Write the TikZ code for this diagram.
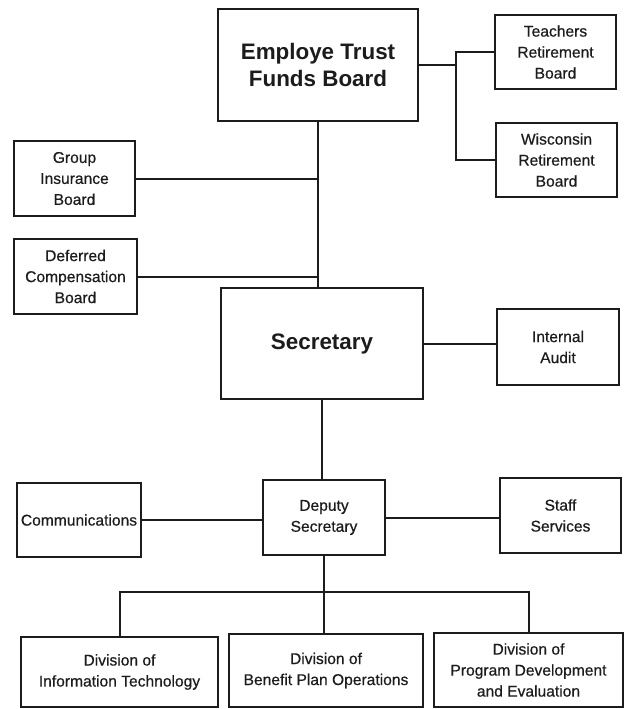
\documentclass[tikz,border=0pt]{standalone}
\usepackage{fontspec}
\setmainfont{Liberation Sans}
\newfontfamily\orgfont{Liberation Sans}[FakeBold=0.5]
\usetikzlibrary{positioning,calc}
\definecolor{OrgInk}{RGB}{28,28,28}
\tikzset{
  org/box/.style={
    draw=OrgInk,
    line width=1pt,
    fill=white,
    align=center,
    text=OrgInk,
    inner sep=2pt,
    font=\orgfont\fontsize{7.8}{10.5}\selectfont
  },
  org/bigbox/.style={
    org/box,
    font=\fontsize{11.2}{13.5}\selectfont\bfseries
  },
  org/link/.style={draw=OrgInk, line width=1pt}
}
\begin{document}
\begin{tikzpicture}[x=0.5pt,y=-0.5pt]
  \useasboundingbox (0,0) rectangle (625,709);
  % boards
  \node[org/bigbox,minimum width=100pt,minimum height=56pt] (etf) at (318,65) {Employe Trust\\Funds Board};
  \node[org/box,minimum width=60.5pt,minimum height=37pt] (teach) at (555.5,52) {Teachers\\Retirement\\Board};
  \node[org/box,minimum width=60.5pt,minimum height=37pt] (wisc) at (556.5,160) {Wisconsin\\Retirement\\Board};
  \node[org/box,minimum width=60.5pt,minimum height=37.5pt] (group) at (74.5,178.5) {Group\\Insurance\\Board};
  \node[org/box,minimum width=61.5pt,minimum height=37.5pt] (defcomp) at (75.5,276.5) {Deferred\\Compensation\\Board};
  % secretary level
  \node[org/bigbox,minimum width=101pt,minimum height=55.5pt] (sec) at (322,343.5) {Secretary};
  \node[org/box,minimum width=61pt,minimum height=38pt] (audit) at (558,347) {Internal\\Audit};
  % deputy level
  \node[org/box,minimum width=61pt,minimum height=37.5pt] (deputy) at (324,517.5) {Deputy\\Secretary};
  \node[org/box,minimum width=61pt,minimum height=37pt] (comm) at (79,520) {Communications};
  \node[org/box,minimum width=60.5pt,minimum height=37.5pt] (staff) at (560.5,515.5) {Staff\\Services};
  % divisions
  \node[org/box,minimum width=98.5pt,minimum height=35pt] (divit) at (119.5,672) {Division of\\Information Technology};
  \node[org/box,minimum width=97pt,minimum height=36.5pt] (divbpo) at (326,670.5) {Division of\\Benefit Plan Operations};
  \node[org/box,minimum width=94.5pt,minimum height=37pt] (divpde) at (528.5,670) {Division of\\Program Development\\and Evaluation};
  % connectors
  \draw[org/link] (etf.east) -- ++(37,0) coordinate (fork);
  \draw[org/link] (teach.west) -| (fork) |- (wisc.west);
  \draw[org/link] (etf.south) -- (etf.south |- sec.north);
  \draw[org/link] (group.east) -- (group.east -| etf.south);
  \draw[org/link] (defcomp.east) -- (defcomp.east -| etf.south);
  \draw[org/link] (sec.east) -- (sec.east -| audit.west);
  \draw[org/link] (sec.south) -- (sec.south |- deputy.north);
  \draw[org/link] (comm.east) -- (comm.east -| deputy.west);
  \draw[org/link] (deputy.east) -- (deputy.east -| staff.west);
  \coordinate (bus) at (324,592);
  \draw[org/link] (deputy.south) -- (bus);
  \draw[org/link] (divit.north) |- (bus) -| (divpde.north);
  \draw[org/link] (bus) -- (bus |- divbpo.north);
\end{tikzpicture}
\end{document}
